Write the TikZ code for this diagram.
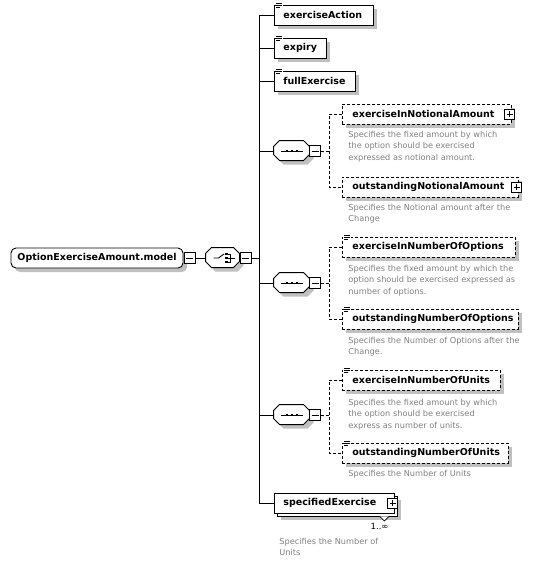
\documentclass[tikz,border=0pt]{standalone}
\usepackage{fontspec}
\newfontfamily\dvs{DejaVu Sans}
\usetikzlibrary{shadows,calc}
\definecolor{shadowgray}{RGB}{192,192,192}
\definecolor{descgray}{RGB}{128,128,128}
\newcommand\octo[1]{%
  \draw[fill=white,shd] (#1.north west) ++(6,0) -- ++(24,0) -- ++(6,6) -- ++(0,8) -- ++(-6,6) -- ++(-24,0) -- ++(-6,-6) -- ++(0,-8) -- cycle;}
\newcommand\seqsym[1]{%
  \draw[line width=0.9pt] ($(#1.center)+(-11,0)$) -- ($(#1.center)+(11,0)$);
  \foreach \dx in {-5,0,5}{\fill ($(#1.center)+(\dx-1.4,-1.4)$) rectangle +(2.8,2.8);}}
\newcommand\simpleicon[1]{%
  \fill[white] ($(#1.north west)+(1.5,-2.5)$) rectangle +(7,7);
  \draw[line width=0.7pt] ($(#1.north west)+(2,-1)$) -- +(6,0)
    ($(#1.north west)+(2,1)$) -- +(6,0)
    ($(#1.north west)+(2,3)$) -- +(4,0);}
\newcommand\lbox[3]{\makebox[#1pt][l]{\hspace*{#2pt}#3}}
\begin{document}
\begin{tikzpicture}[x=1pt,y=-1pt,line width=0.9pt,
  shd/.style={drop shadow={shadow xshift=4pt,shadow yshift=-4pt,fill=shadowgray,opacity=1}},
  bold/.style={font=\dvs\bfseries\fontsize{9.5}{12}\selectfont},
  elem/.style={draw,fill=white,shd,bold,minimum height=20pt,inner xsep=0pt,inner ysep=0pt,anchor=west},
  optelem/.style={elem,dash pattern=on 3pt off 2pt},
  desc/.style={anchor=north west,inner sep=0pt,align=left,text=descgray,font=\dvs\fontsize{8.2}{11.5}\selectfont},
  octbox/.style={minimum width=36pt,minimum height=20pt,inner sep=0pt},
  minusbox/.style={draw,fill=white,minimum size=11pt,inner sep=0pt,solid,
    path picture={\draw[line width=0.9pt] ([xshift=2pt]path picture bounding box.west) -- ([xshift=-2pt]path picture bounding box.east);}},
  plusbox/.style={draw,fill=white,minimum size=10pt,inner sep=0pt,solid,
    path picture={\draw[line width=0.9pt] ([xshift=2pt]path picture bounding box.west) -- ([xshift=-2pt]path picture bounding box.east)
      ([yshift=-2pt]path picture bounding box.north) -- ([yshift=2pt]path picture bounding box.south);}},
  conn/.style={line width=0.9pt},
  dconn/.style={line width=0.9pt,dash pattern=on 3pt off 2pt}]
\useasboundingbox (0,0) rectangle (538,563);

% root
\node[draw,fill=white,shd,bold,rounded corners=5pt,minimum width=172pt,minimum height=20pt,inner sep=0pt] (main) at (97,258) {OptionExerciseAmount.model};
\node[minusbox] (m1) at (189.5,258) {};

% choice
\node[octbox,minimum width=34pt] (choice) at (223,258) {};
\draw[fill=white,shd] (choice.north west) ++(6,0) -- ++(22,0) -- ++(6,6) -- ++(0,8) -- ++(-6,6) -- ++(-22,0) -- ++(-6,-6) -- ++(0,-8) -- cycle;
\draw[line width=0.9pt] ($(choice.center)+(-9.5,0)$) -- ($(choice.center)+(-4.5,0)$) -- ($(choice.center)+(1,-4)$);
\foreach \dy in {-4,0,4}{\fill ($(choice.center)+(2,\dy-1.3)$) rectangle +(2.8,2.6);}
\draw[line width=0.9pt] ($(choice.center)+(4.6,-4)$) -- ($(choice.center)+(7.5,-4)$) -- ($(choice.center)+(7.5,4)$) -- ($(choice.center)+(4.6,4)$)
  ($(choice.center)+(4.6,0)$) -- ($(choice.center)+(12,0)$);
\node[minusbox] (m2) at (245.5,258) {};

\draw[conn] (m1.east) -- (choice.west);

% spine
\coordinate (spt) at (259,15);
\coordinate (spb) at (259,503);
\draw[conn] (spt) -- (spb);
\draw[conn] (m2.east) -- (m2.east -| spt);

% top elements
\node[elem] (ea) at (274,15) {\lbox{99}{9}{exerciseAction}};
\simpleicon{ea}
\node[elem] (ex) at (274,48) {\lbox{52}{9}{expiry}};
\simpleicon{ex}
\node[elem] (fe) at (274,81) {\lbox{81}{9}{fullExercise}};
\simpleicon{fe}

% sequence 1
\node[octbox] (s1) at (292,151) {};
\octo{s1}
\seqsym{s1}
\node[minusbox] (sm1) at (315,151) {};
\node[optelem] (eina) at (342,114) {\lbox{169}{10}{exerciseInNotionalAmount}};
\node[plusbox] (p1) at ($(eina.east)+(-2,0)$) {};
\node[desc] (d1) at (348,130.5) {Specifies the fixed amount by which\\the option should be exercised\\expressed as notional amount.};
\node[optelem] (ona) at (342,187) {\lbox{176}{10}{outstandingNotionalAmount}};
\node[plusbox] (p2) at ($(ona.east)+(-2,0)$) {};
\node[desc] (d2) at (348,203.5) {Specifies the Notional amount after the\\Change};
\coordinate (v1) at (329,151);
\draw[dconn] (sm1.east) -- (v1);
\draw[dconn] (eina.west) -- (eina.west -| v1) -- (ona.west -| v1) -- (ona.west);

% sequence 2
\node[octbox] (s2) at (292,283) {};
\octo{s2}
\seqsym{s2}
\node[minusbox] (sm2) at (315,283) {};
\node[optelem] (eino) at (342,247) {\lbox{173}{10}{exerciseInNumberOfOptions}};
\simpleicon{eino}
\node[desc] (d3) at (348,264.5) {Specifies the fixed amount by which the\\option should be exercised expressed as\\number of options.};
\node[optelem] (ono) at (342,319) {\lbox{176}{10}{outstandingNumberOfOptions}};
\simpleicon{ono}
\node[desc] (d4) at (348,336.5) {Specifies the Number of Options after the\\Change.};
\coordinate (v2) at (329,283);
\draw[dconn] (sm2.east) -- (v2);
\draw[dconn] (eino.west) -- (eino.west -| v2) -- (ono.west -| v2) -- (ono.west);

% sequence 3
\node[octbox] (s3) at (292,415) {};
\octo{s3}
\seqsym{s3}
\node[minusbox] (sm3) at (315,415) {};
\node[optelem] (einu) at (342,380) {\lbox{158}{10}{exerciseInNumberOfUnits}};
\simpleicon{einu}
\node[desc] (d5) at (348,398.5) {Specifies the fixed amount by which\\the option should be exercised\\express as number of units.};
\node[optelem] (onu) at (342,453) {\lbox{166}{10}{outstandingNumberOfUnits}};
\simpleicon{onu}
\node[desc] (d6) at (348,469.5) {Specifies the Number of Units};
\coordinate (v3) at (329,415);
\draw[dconn] (sm3.east) -- (v3);
\draw[dconn] (einu.west) -- (einu.west -| v3) -- (onu.west -| v3) -- (onu.west);

% specifiedExercise
\node[draw,fill=white,shd,minimum width=120pt,minimum height=20pt,inner sep=0pt,anchor=west] (specb) at (277,506) {};
\draw[fill=white,line width=0.7pt] ($(specb.south east)+(-18,0)$) -- ($(specb.south east)+(-13.5,4.5)$) -- ($(specb.south east)+(-9,0)$);
\node[draw,fill=white,bold,minimum height=20pt,inner xsep=0pt,inner ysep=0pt,anchor=west] (spec) at (274,503) {\lbox{120}{9}{specifiedExercise}};
\node[plusbox] (p3) at ($(spec.east)+(-2,0)$) {};
\node[anchor=east,inner sep=0pt,font=\dvs\fontsize{8.5}{10}\selectfont] (card) at (389,526) {1..∞};
\node[desc] (d7) at (279,537.5) {Specifies the Number of\\Units};

% spine branches
\foreach \n in {ea,ex,fe,s1,s2,s3,spec}{\draw[conn] (\n.west -| spt) -- (\n.west);}
\end{tikzpicture}
\end{document}
